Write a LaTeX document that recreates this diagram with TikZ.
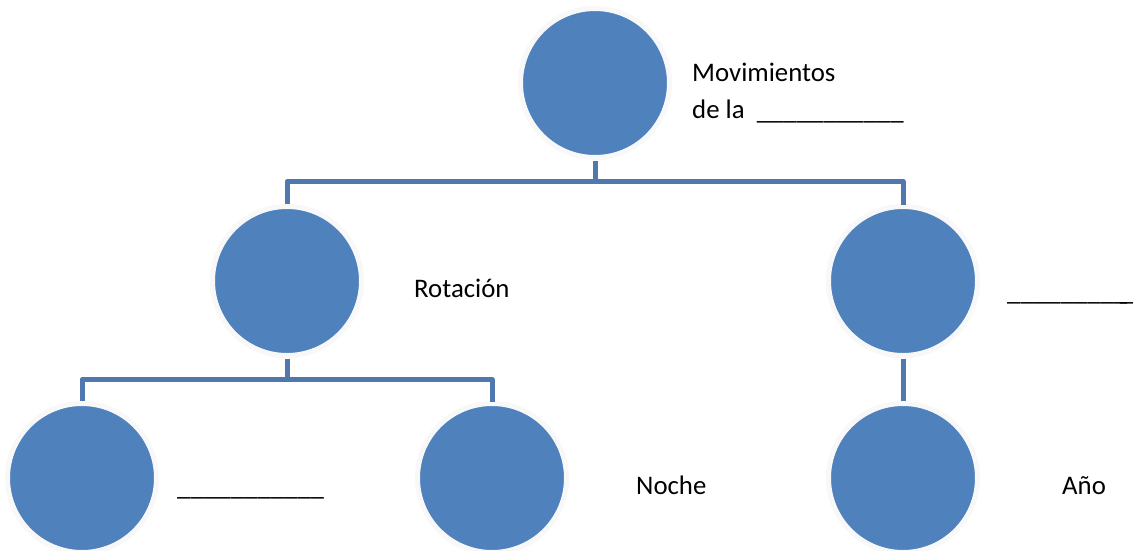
\documentclass[tikz,border=0pt]{standalone}
\usepackage{fontspec}
\setmainfont{Carlito}
\definecolor{cblue}{HTML}{4F81BD}
\definecolor{lblue}{HTML}{4F78AF}
\definecolor{halo}{HTML}{F8F8F8}
\tikzset{
 px/.style={x=1pt,y=-1pt},
 circ/.style={circle,fill=cblue,draw=halo,line width=5pt,minimum size=149pt,inner sep=0pt},
 conn/.style={draw=lblue,line width=5pt,line cap=butt,line join=round},
 lab/.style={anchor=base west,font=\fontsize{26.8}{30}\selectfont,text=black,inner sep=0pt}
}
\begin{document}
\begin{tikzpicture}[px]
\useasboundingbox (0,0) rectangle (1133,550);
\fill[white] (0,0) rectangle (1133,550);
\node[circ] (top) at (595,83) {};
\node[circ] (rot) at (287,281) {};
\node[circ] (tra) at (903,281) {};
\node[circ] (dia) at (82,478) {};
\node[circ] (noc) at (492,478) {};
\node[circ] (ano) at (903,478) {};
\coordinate (j1) at (287,181.5);
\coordinate (j2) at (903,181.5);
\coordinate (j3) at (82,379.5);
\coordinate (j4) at (492,379.5);
\draw[conn] (top.south) ++(0,0.5) -- (top.south |- j1);
\draw[conn] (rot.north) ++(0,-0.5) -- (j1) -- (j2) -- ([yshift=-0.5pt]tra.north);
\draw[conn] (rot.south) ++(0,0.5) -- (rot.south |- j3);
\draw[conn] (dia.north) ++(0,-0.5) -- (j3) -- (j4) -- ([yshift=-0.5pt]noc.north);
\draw[conn] ([yshift=-0.5pt]tra.south) -- ([yshift=0.5pt]ano.north);
\node[lab] (t1) at (692,81) {Movimientos};
\node[lab] (t2) at (692,118) {de la\ \ \raisebox{-1.5pt}{\_\_\_\_\_\_\_\_\_\_\_}};
\node[lab] (t3) at (414,297) {Rotación};
\node[lab] (t4) at (1007,300) {\_\_\_\_\_\_\_\_\_\kern-7.5pt\_};
\node[lab] (t5) at (177,495) {\_\_\_\_\_\_\_\_\_\_\_};
\node[lab] (t6) at (636,494) {Noche};
\node[lab] (t7) at (1062,494) {Año};
\end{tikzpicture}
\end{document}
